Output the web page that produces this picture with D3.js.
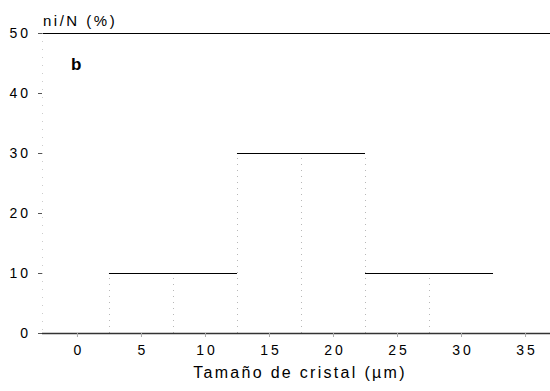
<!DOCTYPE html>
<html>
<head>
<meta charset="utf-8">
<script src="https://cdn.jsdelivr.net/npm/d3@7"></script>
<style>
    body { margin: 0; background: #fff; }
    text { font-family: "Liberation Sans", Arial, sans-serif; fill: #000; }
</style>
</head>
<body>
<script>
// Histogram data: crystal size bins (um) and relative frequency (%)
var binStart = [2.5, 7.5, 12.5, 17.5, 22.5, 27.5];
var binEnd = [7.5, 12.5, 17.5, 22.5, 27.5, 32.5];
var freq = [10, 10, 30, 30, 10, 10];
var xTicks = [0, 5, 10, 15, 20, 25, 30, 35];
var yTicks = [0, 10, 20, 30, 40, 50];

var width = 550, height = 391;
var margin = {top: 33, right: 0, bottom: 58, left: 42};

var svg = d3.select("body").append("svg")
    .attr("width", width)
    .attr("height", height);

var xScale = d3.scaleLinear()
    .domain([-2.73, 36.95])
    .range([margin.left, width - margin.right]);

var yScale = d3.scaleLinear()
    .domain([0, 50])
    .range([height - margin.bottom, margin.top]);

// snap to half pixels so thin lines stay crisp
function px(v) { return Math.round(v) + 0.5; }

var bins = freq.map(function(v, i) {
    return {x0: binStart[i], x1: binEnd[i], value: v};
});

// faint dotted bin sides (scan shows them barely)
var g = svg.append("g");
g.selectAll(".side")
    .data(bins)
    .enter()
    .append("line")
    .attr("class", "side")
    .attr("x1", function(d) { return px(xScale(d.x0)); })
    .attr("x2", function(d) { return px(xScale(d.x0)); })
    .attr("y1", yScale(0))
    .attr("y2", function(d, i) {
        var prev = i > 0 ? bins[i - 1].value : 0;
        return yScale(Math.max(prev, d.value));
    })
    .attr("stroke", "#b8b8b8")
    .attr("stroke-width", 1)
    .attr("stroke-dasharray", "1,5");

// bar tops
g.selectAll(".top")
    .data(bins)
    .enter()
    .append("line")
    .attr("class", "top")
    .attr("x1", function(d) { return xScale(d.x0); })
    .attr("x2", function(d) { return xScale(d.x1); })
    .attr("y1", function(d) { return px(yScale(d.value)); })
    .attr("y2", function(d) { return px(yScale(d.value)); })
    .attr("stroke", "#000")
    .attr("stroke-width", 1);

// frame top line at 50 and baseline at 0
svg.append("line")
    .attr("x1", xScale(-2.73)).attr("x2", width)
    .attr("y1", px(yScale(50))).attr("y2", px(yScale(50)))
    .attr("stroke", "#000").attr("stroke-width", 1);
svg.append("line")
    .attr("x1", xScale(-2.73)).attr("x2", width)
    .attr("y1", px(yScale(0))).attr("y2", px(yScale(0)))
    .attr("stroke", "#333").attr("stroke-width", 1.5);

// axes
var yAxis = d3.axisLeft(yScale).tickValues(yTicks).tickSize(4).tickPadding(7);
var yG = svg.append("g")
    .attr("transform", "translate(" + margin.left + ",0)")
    .call(yAxis);
yG.select(".domain").attr("stroke", "#ccc").attr("stroke-dasharray", "1,7");
yG.selectAll(".tick line").attr("stroke", "#555");
yG.selectAll("text")
    .style("font-size", "14px")
    .style("letter-spacing", "3px")
    .attr("font-family", null);

var xAxis = d3.axisBottom(xScale).tickValues(xTicks).tickSize(4).tickPadding(8);
var xG = svg.append("g")
    .attr("transform", "translate(0," + yScale(0) + ")")
    .call(xAxis);
xG.select(".domain").remove();
xG.selectAll(".tick line").attr("stroke", "#aaa");
xG.selectAll("text")
    .style("font-size", "14px")
    .style("letter-spacing", "3px")
    .attr("dx", "1.5px")
    .attr("font-family", null);

// labels
svg.append("text")
    .attr("x", 43)
    .attr("y", 26)
    .style("font-size", "15px")
    .style("letter-spacing", "2.5px")
    .text("ni/N (%)");

svg.append("text")
    .attr("x", 71)
    .attr("y", 70)
    .style("font-size", "17px")
    .style("font-weight", "bold")
    .text("b");

svg.append("text")
    .attr("x", 300)
    .attr("y", 378)
    .style("text-anchor", "middle")
    .style("font-size", "16px")
    .style("letter-spacing", "2.3px")
    .text("Tamaño de cristal (µm)");
</script>
</body>
</html>
